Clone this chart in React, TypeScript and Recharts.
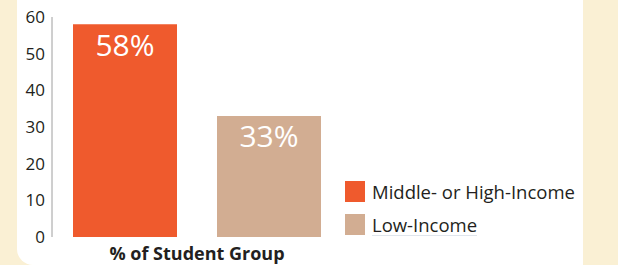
import { BarChart, Bar, XAxis, YAxis, LabelList } from "recharts"

const categories = ["% of Student Group"]
const middleHighIncome = [58]
const lowIncome = [33]
const yTicks = [0, 10, 20, 30, 40, 50, 60]

const seriesNames = ["Middle- or High-Income", "Low-Income"]

const ORANGE = "#ef5a2d"
const TAN = "#d2ad92"
const CREAM = "#faf0d4"
const INK = "#231f20"
const FONT = "'Open Sans', 'Noto Sans', sans-serif"

const data = categories.map((name, i) => ({
  name,
  high: middleHighIncome[i],
  low: lowIncome[i],
}))

function LegendBox() {
  const colors = [ORANGE, TAN]
  return (
    <div style={{ position: "absolute", left: 345, top: 181, width: 250, fontFamily: FONT }}>
      {seriesNames.map((n, i) => (
        <div key={n} style={{ display: "flex", alignItems: "center", height: 21, marginBottom: 12 }}>
          <span style={{ width: 20, height: 21, background: colors[i], marginRight: 7, flexShrink: 0 }} />
          <span
            style={{
              fontSize: 18.5,
              color: INK,
              lineHeight: "21px",
              borderBottom: i === 1 ? "1px solid #dfe5ec" : "none",
            }}
          >
            {n}
          </span>
        </div>
      ))}
    </div>
  )
}

export default function App() {
  return (
    <div style={{ position: "absolute", left: 0, top: 0, width: 618, height: 265, background: CREAM, overflow: "hidden" }}>
      <div
        style={{
          position: "absolute",
          left: 17,
          top: 0,
          width: 566,
          height: 265,
          background: "#fff",
          borderBottomLeftRadius: 16,
        }}
      />
      <div style={{ position: "absolute", left: 0, top: 0 }}>
        <BarChart
          width={618}
          height={265}
          data={data}
          margin={{ top: 17, right: 276, bottom: 0, left: 0 }}
          barGap={40}
          style={{ fontFamily: FONT }}
        >
          <XAxis
            dataKey="name"
            height={28}
            axisLine={false}
            tickLine={false}
            tickMargin={4}
            tick={{ fontSize: 18, fontWeight: 700, fill: INK }}
          />
          <YAxis
            width={52}
            domain={[0, 60]}
            ticks={yTicks}
            interval={0}
            tickLine={false}
            tickMargin={1}
            axisLine={{ stroke: "#9e9e9e", strokeWidth: 1 }}
            tick={{ fontSize: 17, fill: INK }}
          />
          <Bar dataKey="high" name={seriesNames[0]} fill={ORANGE} barSize={104} isAnimationActive={false}>
            <LabelList
              dataKey="high"
              position="insideTop"
              offset={10}
              formatter={(v: number) => `${v}%`}
              fill="#fff"
              fontSize={30}
              fontWeight={400}
            />
          </Bar>
          <Bar dataKey="low" name={seriesNames[1]} fill={TAN} barSize={104} isAnimationActive={false}>
            <LabelList
              dataKey="low"
              position="insideTop"
              offset={10}
              formatter={(v: number) => `${v}%`}
              fill="#fff"
              fontSize={30}
              fontWeight={400}
            />
          </Bar>
        </BarChart>
      </div>
      <LegendBox />
    </div>
  )
}
